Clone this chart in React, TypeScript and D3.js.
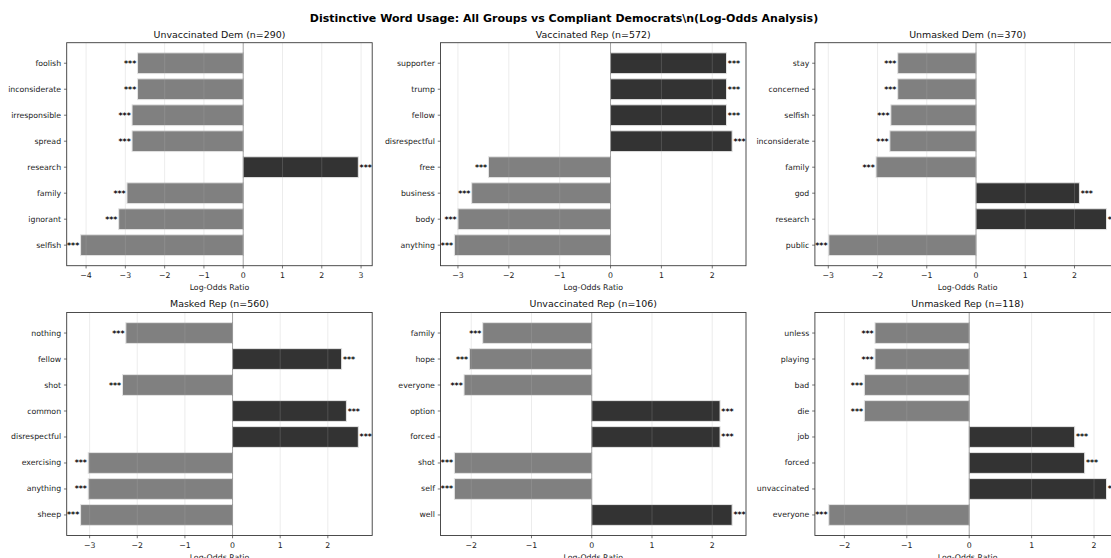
import React from 'react';
import * as d3 from 'd3';

// Figure title (the literal "\n" is part of the drawn text)
const SUPTITLE = 'Distinctive Word Usage: All Groups vs Compliant Democrats\\n(Log-Odds Analysis)';
const X_LABEL = 'Log-Odds Ratio';

// Group names and sample sizes
const groupNames = ['Unvaccinated Dem', 'Vaccinated Rep', 'Unmasked Dem', 'Masked Rep', 'Unvaccinated Rep', 'Unmasked Rep'];
const groupSizes = [290, 572, 370, 560, 106, 118];

// Words (top to bottom) and log-odds ratios per group
const unvaxDemWords = ['foolish', 'inconsiderate', 'irresponsible', 'spread', 'research', 'family', 'ignorant', 'selfish'];
const unvaxDemValues = [-2.69, -2.69, -2.83, -2.83, 2.93, -2.96, -3.17, -4.14];

const vaxRepWords = ['supporter', 'trump', 'fellow', 'disrespectful', 'free', 'business', 'body', 'anything'];
const vaxRepValues = [2.28, 2.28, 2.28, 2.39, -2.4, -2.73, -3.0, -3.07];

const unmaskDemWords = ['stay', 'concerned', 'selfish', 'inconsiderate', 'family', 'god', 'research', 'public'];
const unmaskDemValues = [-1.59, -1.59, -1.73, -1.75, -2.03, 2.1, 2.65, -2.99];

const maskRepWords = ['nothing', 'fellow', 'shot', 'common', 'disrespectful', 'exercising', 'anything', 'sheep'];
const maskRepValues = [-2.24, 2.29, -2.31, 2.39, 2.64, -3.03, -3.03, -3.19];

const unvaxRepWords = ['family', 'hope', 'everyone', 'option', 'forced', 'shot', 'self', 'well'];
const unvaxRepValues = [-1.81, -2.03, -2.12, 2.13, 2.13, -2.28, -2.28, 2.33];

const unmaskRepWords = ['unless', 'playing', 'bad', 'die', 'job', 'forced', 'unvaccinated', 'everyone'];
const unmaskRepValues = [-1.51, -1.51, -1.68, -1.68, 1.69, 1.85, 2.2, -2.25];

// Significance marks per bar
const sigMarks = ['***', '***', '***', '***', '***', '***', '***', '***'];

const panelWords = [unvaxDemWords, vaxRepWords, unmaskDemWords, maskRepWords, unvaxRepWords, unmaskRepWords];
const panelValues = [unvaxDemValues, vaxRepValues, unmaskDemValues, maskRepValues, unvaxRepValues, unmaskRepValues];

const W = 1111;
const H = 558;
const FONT = "'DejaVu Sans', 'Liberation Sans', sans-serif";
const colLeft = [66.7, 440.5, 814.9];
const rowTop = [42.7, 312.5];
const PW = 305.5;
const PH = 223;

const NEG = '#808080';
const POS = '#333333';

function Panel({ idx }: { idx: number }) {
  const words = panelWords[idx];
  const values = panelValues[idx];
  const x0 = colLeft[idx % 3];
  const y0 = rowTop[Math.floor(idx / 3)];

  const lo = Math.min(0, d3.min(values) as number);
  const hi = Math.max(0, d3.max(values) as number);
  const m = (hi - lo) * 0.05;
  const x = d3.scaleLinear().domain([lo - m, hi + m]).range([x0, x0 + PW]);
  const y = d3
    .scaleBand<string>()
    .domain(words.map((w, i) => `${i}`))
    .range([y0, y0 + PH])
    .paddingInner(0.2)
    .paddingOuter(0.39);
  const ticks = d3.range(Math.ceil(lo - m), Math.floor(hi + m) + 1);
  const bw = y.bandwidth();
  const yb = y0 + PH;

  return (
    <g>
      <defs>
        <clipPath id={`clip${idx}`}>
          <rect x={x0} y={y0} width={PW} height={PH} />
        </clipPath>
      </defs>
      {/* bars */}
      {values.map((v, i) => {
        const yy = y(`${i}`) as number;
        return (
          <rect
            key={`b${i}`}
            x={Math.min(x(0), x(v))}
            y={yy}
            width={Math.abs(x(v) - x(0))}
            height={bw}
            fill={v < 0 ? NEG : POS}
            stroke="#e4e4e4"
            strokeWidth={1}
          />
        );
      })}
      {/* vertical grid, drawn above the bars */}
      <g clipPath={`url(#clip${idx})`}>
        {ticks.map((t) => (
          <line key={`g${t}`} x1={x(t)} x2={x(t)} y1={y0} y2={yb} stroke="#b0b0b0" strokeOpacity={0.3} strokeWidth={0.8} />
        ))}
        <line x1={x(0)} x2={x(0)} y1={y0} y2={yb} stroke="#000" strokeOpacity={0.3} strokeWidth={1} />
      </g>
      {/* significance marks */}
      {values.map((v, i) => {
        const yy = (y(`${i}`) as number) + bw / 2;
        return (
          <text
            key={`s${i}`}
            x={v < 0 ? x(v) - 1.3 : x(v) + 1.3}
            y={yy}
            dominantBaseline="central"
            textAnchor={v < 0 ? 'end' : 'start'}
            fontSize={7.8}
            fontWeight="bold"
            fontFamily={FONT}
            fill="#000"
          >
            {sigMarks[i]}
          </text>
        );
      })}
      {/* frame */}
      <rect x={x0} y={y0} width={PW} height={PH} fill="none" stroke="#3a3a3a" strokeWidth={0.9} />
      {/* y ticks and labels */}
      {words.map((w, i) => {
        const yy = (y(`${i}`) as number) + bw / 2;
        return (
          <g key={`y${i}`}>
            <line x1={x0 - 2.75} x2={x0} y1={yy} y2={yy} stroke="#3a3a3a" strokeWidth={0.7} />
            <text x={x0 - 5.6} y={yy} dominantBaseline="central" textAnchor="end" fontSize={7.8} fontFamily={FONT} fill="#222">
              {w}
            </text>
          </g>
        );
      })}
      {/* x ticks and labels */}
      {ticks.map((t) => (
        <g key={`x${t}`}>
          <line x1={x(t)} x2={x(t)} y1={yb} y2={yb + 2.75} stroke="#3a3a3a" strokeWidth={0.7} />
          <text x={x(t)} y={yb + 12.5} textAnchor="middle" fontSize={7.8} fontFamily={FONT} fill="#222">
            {d3.format('d')(t).replace('-', '\u2212')}
          </text>
        </g>
      ))}
      <text x={x0 + PW / 2} y={yb + 24} textAnchor="middle" fontSize={7.8} fontFamily={FONT} fill="#222">
        {X_LABEL}
      </text>
      <text x={x0 + PW / 2} y={y0 - 5.1} textAnchor="middle" fontSize={9.43} fontFamily={FONT} fill="#111">
        {`${groupNames[idx]} (n=${groupSizes[idx]})`}
      </text>
    </g>
  );
}

export default function App() {
  return (
    <svg
      width={W}
      height={H}
      viewBox={`0 0 ${W} ${H}`}
      style={{ position: 'absolute', left: 0, top: 0, background: '#fff' }}
    >
      <rect x={0} y={0} width={W} height={H} fill="#fff" />
      <text x={564} y={22} textAnchor="middle" fontSize={11} fontWeight="bold" fontFamily={FONT} fill="#000">
        {SUPTITLE}
      </text>
      {groupNames.map((g, i) => (
        <Panel key={g} idx={i} />
      ))}
    </svg>
  );
}
